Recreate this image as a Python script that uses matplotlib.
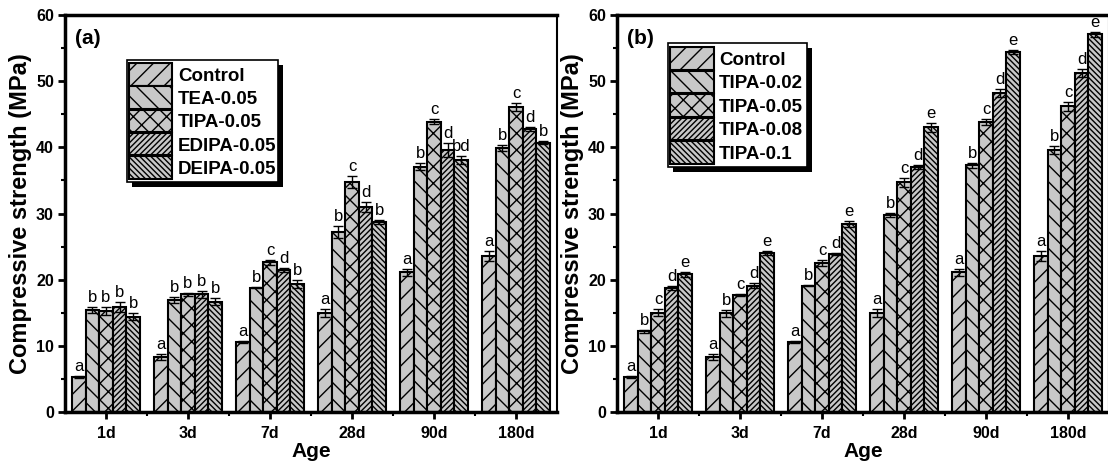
import matplotlib
matplotlib.use("Agg")
import matplotlib.pyplot as plt
from matplotlib.patches import Rectangle
from matplotlib.transforms import IdentityTransform
import numpy as np

plt.rcParams['font.family'] = ['Liberation Sans', 'DejaVu Sans']
plt.rcParams['hatch.linewidth'] = 1.0

ages = ["1d", "3d", "7d", "28d", "90d", "180d"]

# Panel (a)
series_a = ["Control", "TEA-0.05", "TIPA-0.05", "EDIPA-0.05", "DEIPA-0.05"]
control_a = [5.3, 8.3, 10.6, 14.9, 21.1, 23.6]
tea_a = [15.4, 16.9, 18.8, 27.2, 37.1, 39.9]
tipa_a = [15.2, 17.8, 22.6, 34.7, 43.9, 46.1]
edipa_a = [15.9, 17.8, 21.5, 31.0, 39.6, 42.7]
deipa_a = [14.4, 16.7, 19.3, 28.7, 38.1, 40.7]
err_control_a = [0.2, 0.4, 0.2, 0.6, 0.5, 0.8]
err_tea_a = [0.5, 0.5, 0.1, 0.9, 0.5, 0.4]
err_tipa_a = [0.6, 0.2, 0.4, 0.9, 0.4, 0.6]
err_edipa_a = [0.8, 0.5, 0.3, 0.8, 1.0, 0.3]
err_deipa_a = [0.5, 0.6, 0.6, 0.3, 0.6, 0.2]
letters_control_a = ["a", "a", "a", "a", "a", "a"]
letters_tea_a = ["b", "b", "b", "b", "b", "b"]
letters_tipa_a = ["b", "b", "c", "c", "c", "c"]
letters_edipa_a = ["b", "b", "d", "d", "d", "d"]
letters_deipa_a = ["b", "b", "b", "b", "bd", "b"]

# Panel (b)
series_b = ["Control", "TIPA-0.02", "TIPA-0.05", "TIPA-0.08", "TIPA-0.1"]
control_b = [5.3, 8.3, 10.6, 14.9, 21.1, 23.6]
tipa002_b = [12.2, 14.9, 19.1, 29.8, 37.3, 39.6]
tipa005_b = [15.0, 17.7, 22.5, 34.7, 43.8, 46.2]
tipa008_b = [18.8, 19.1, 23.9, 37.0, 48.2, 51.2]
tipa01_b = [20.8, 24.1, 28.4, 43.0, 54.4, 57.1]
err_control_b = [0.2, 0.4, 0.2, 0.6, 0.5, 0.8]
err_tipa002_b = [0.2, 0.5, 0.1, 0.3, 0.4, 0.6]
err_tipa005_b = [0.5, 0.2, 0.4, 0.7, 0.5, 0.7]
err_tipa008_b = [0.3, 0.4, 0.1, 0.3, 0.6, 0.6]
err_tipa01_b = [0.4, 0.3, 0.5, 0.7, 0.3, 0.4]
letters_b = ["a", "b", "c", "d", "e"]

hatches = ["//", "\\\\", "xx", "//////", "\\\\\\\\\\\\"]
fill = "#c8c8c8"

W, H = 1108, 470
fig = plt.figure(figsize=(W / 100, H / 100), dpi=100)
IDT = IdentityTransform()

def px_axes(left, right, top, bottom):
    return fig.add_axes([left / W, (H - bottom) / H, (right - left) / W, (bottom - top) / H])

ax_a = px_axes(65, 557, 15, 412)
ax_b = px_axes(617, 1109, 15, 412)

def prect(ax, x0, y0, x1, y1, **kw):
    # pixel coords with y measured from top of image
    r = Rectangle((x0, H - y1), x1 - x0, y1 - y0, transform=IDT, clip_on=False, **kw)
    ax.add_artist(r)
    return r

def manual_legend(ax, names, frame, hx0, hw, top, row_h, gap, tx):
    fx0, fy0, fx1, fy1 = frame
    prect(ax, fx0 + 5, fy0 + 5, fx1 + 5, fy1 + 5, facecolor="black", edgecolor="none", zorder=6)
    prect(ax, fx0, fy0, fx1, fy1, facecolor="white", edgecolor="black", linewidth=1.2, zorder=7)
    for i, nm in enumerate(names):
        y0 = top + i * (row_h + gap)
        prect(ax, hx0, y0, hx0 + hw, y0 + row_h, facecolor=fill, edgecolor="black",
              linewidth=1.5, hatch=hatches[i], zorder=8)
        ax.text(tx, H - (y0 + row_h / 2), nm, transform=IDT, fontsize=13.5,
                fontweight="bold", ha="left", va="center_baseline", zorder=9)

def draw(ax, names, vals, errs, letters, tag):
    x = np.arange(len(ages))
    n = len(names)
    bw = 0.166
    for i in range(n):
        pos = x + (i - (n - 1) / 2) * bw
        ax.bar(pos, vals[i], width=bw, color=fill, edgecolor="black",
               linewidth=1.5, hatch=hatches[i], zorder=2)
        ax.errorbar(pos, vals[i], yerr=errs[i], fmt="none", ecolor="black",
                    elinewidth=1.0, capsize=3.5, capthick=1.0, zorder=3)
        for p, v, e, l in zip(pos, vals[i], errs[i], letters[i]):
            ax.text(p, v + e + 0.3, l, ha="center", va="bottom", fontsize=12,
                    color="black", zorder=4)
    ax.set_xlim(-0.5, 5.5)
    ax.set_ylim(0, 60)
    ax.set_xticks(x)
    ax.set_xticklabels(ages, fontsize=11.5, fontweight="bold")
    ax.set_xticks(np.arange(0.5, 5.5, 1.0), minor=True)
    ax.set_yticks(np.arange(0, 61, 10))
    ax.set_yticklabels([str(v) for v in range(0, 61, 10)], fontsize=11.5, fontweight="bold")
    ax.set_yticks(np.arange(5, 60, 10), minor=True)
    ax.tick_params(axis="both", which="major", direction="out", length=5, width=2, pad=3)
    ax.tick_params(axis="both", which="minor", direction="out", length=3, width=1.5)
    ax.tick_params(axis="x", which="major", pad=5)
    for s in ["left", "bottom", "top"]:
        ax.spines[s].set_linewidth(2.5)
    ax.spines["right"].set_linewidth(1.5)
    ax.set_xlabel("Age", fontsize=15, fontweight="bold", labelpad=1)
    ax.set_ylabel("Compressive strength (MPa)", fontsize=17, fontweight="bold", labelpad=3)
    ax.text(0.02, 0.94, tag, transform=ax.transAxes, fontsize=15, fontweight="bold",
            ha="left", va="center")

draw(ax_a, series_a,
     [control_a, tea_a, tipa_a, edipa_a, deipa_a],
     [err_control_a, err_tea_a, err_tipa_a, err_edipa_a, err_deipa_a],
     [letters_control_a, letters_tea_a, letters_tipa_a, letters_edipa_a, letters_deipa_a],
     "(a)")
manual_legend(ax_a, series_a, (127, 60, 278, 182), 129, 43, 63, 22.5, 0.8, 178)

draw(ax_b, series_b,
     [control_b, tipa002_b, tipa005_b, tipa008_b, tipa01_b],
     [err_control_b, err_tipa002_b, err_tipa005_b, err_tipa008_b, err_tipa01_b],
     [[l] * len(ages) for l in letters_b],
     "(b)")
manual_legend(ax_b, series_b, (668, 43, 807, 167), 670, 44, 47, 22.5, 1.0, 719)

fig.savefig("out.png", dpi=100)
